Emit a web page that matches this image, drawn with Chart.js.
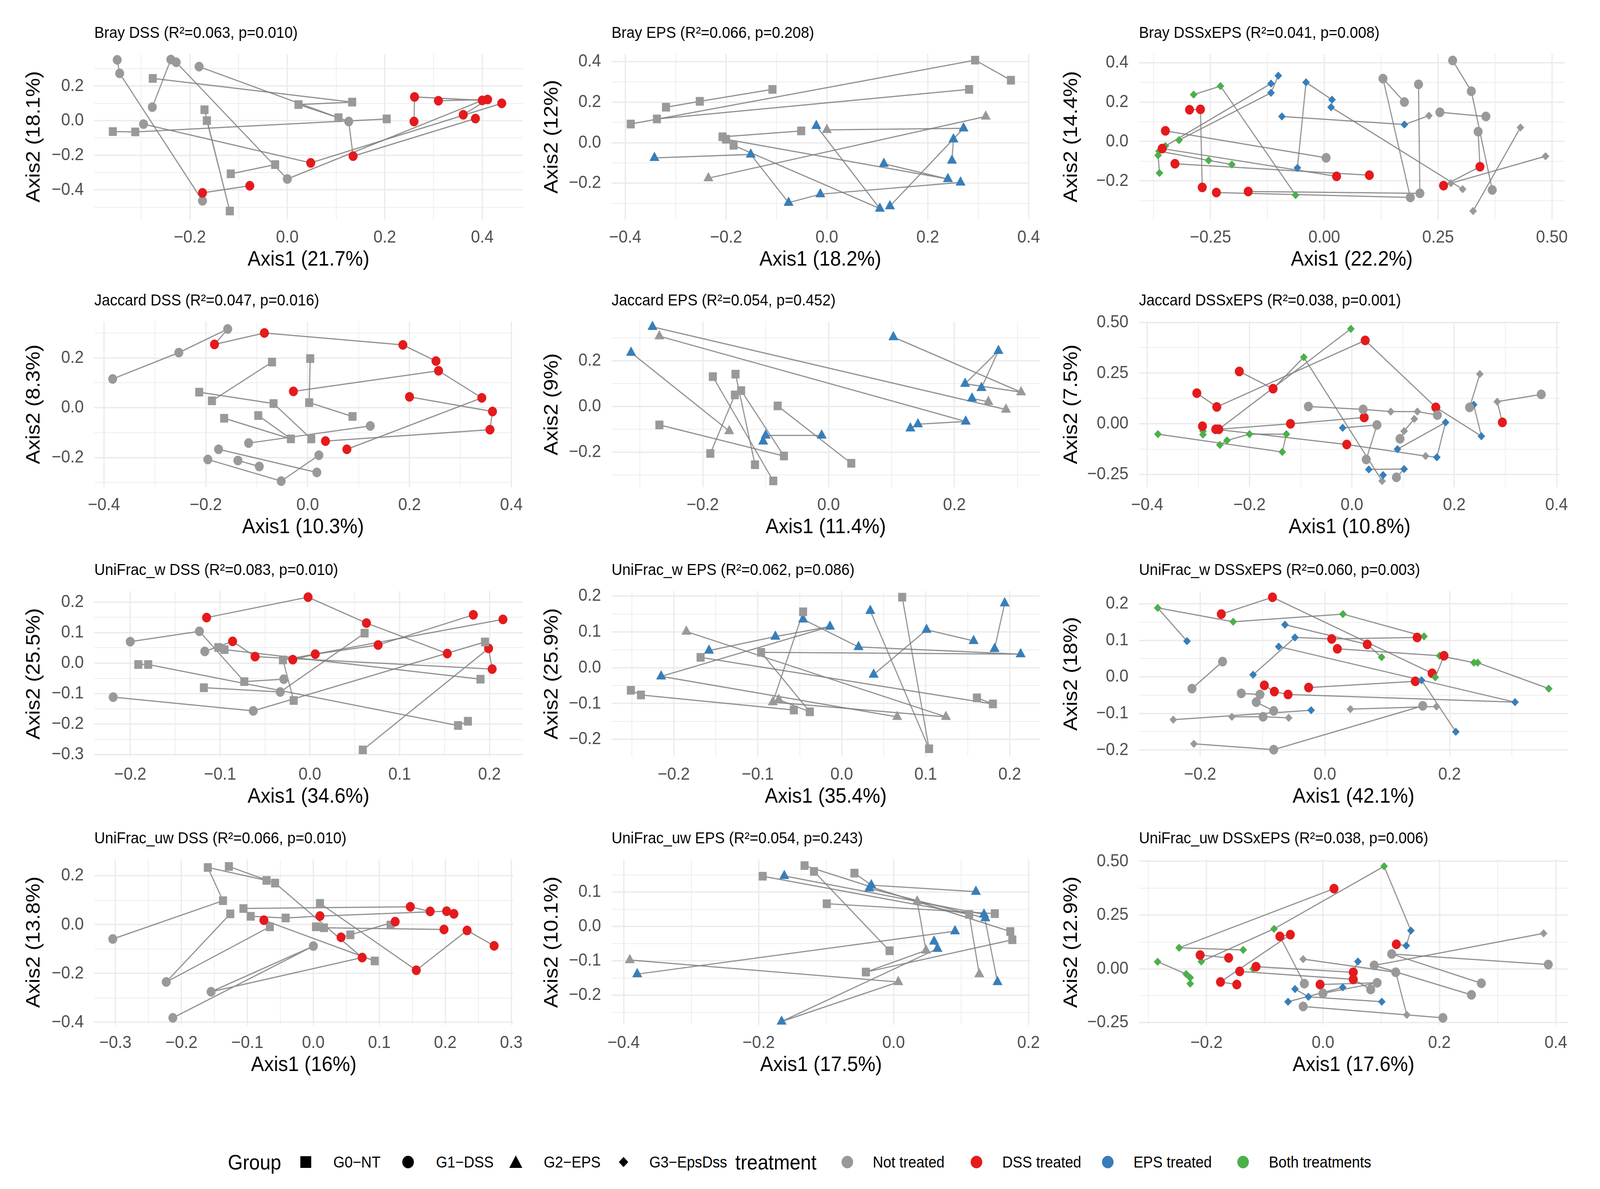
<!DOCTYPE html>
<html><head><meta charset="utf-8">
<script src="https://cdn.jsdelivr.net/npm/chart.js@4.4.1/dist/chart.umd.min.js"></script>
<style>
html,body{margin:0;padding:0;background:#fff;overflow:hidden;}
#page{position:absolute;left:0;top:0;width:4411px;height:3044px;transform-origin:0 0;font-family:"Liberation Sans",Arial,sans-serif;background:#fff;}
#page canvas{position:absolute;}
.lg{position:absolute;white-space:nowrap;line-height:1;transform:translateY(-50%);color:#000;}
.mk{position:absolute;transform:translate(-50%,-50%);}
</style></head><body>
<div id="page"></div>
<script>
// ---------- DATA ----------
// group: 0=G0-NT 1=G1-DSS 2=G2-EPS 3=G3-EpsDss ; treat: 0=Not 1=DSS 2=EPS 3=Both ; path = mouse trajectory id
const brayDssX = [-0.349,-0.344,-0.174,-0.174,-0.077, -0.239,-0.277, -0.228,0.0,0.400,0.261,0.260, -0.181,0.126,0.135,0.386, -0.295,0.048,0.440, 0.310,0.411,0.361, -0.276,0.133,0.023,0.105, -0.358,-0.312,0.204, -0.170,-0.118,-0.165, -0.116,-0.025];
const brayDssY = [0.351,0.273,-0.463,-0.417,-0.376, 0.353,0.078, 0.337,-0.337,0.117,0.137,-0.005, 0.312,-0.005,-0.205,0.012, -0.020,-0.244,0.100, 0.115,0.122,0.034, 0.244,0.107,0.093,0.017, -0.063,-0.065,0.010, 0.063,-0.522,0.0, -0.307,-0.254];
const brayDssGroup = [1,1,1,1,1, 1,1, 1,1,1,1,1, 1,1,1,1, 1,1,1, 1,1,1, 0,0,0,0, 0,0,0, 0,0,0, 0,0];
const brayDssTreat = [0,0,0,1,1, 0,0, 0,0,1,1,1, 0,0,1,1, 0,1,1, 1,1,1, 0,0,0,0, 0,0,0, 0,0,0, 0,0];
const brayDssPath  = [0,0,0,0,0, 1,1, 2,2,2,2,2, 3,3,3,3, 4,4,4, 5,5,5, 6,6,6,6, 7,7,7, 8,8,8, 9,9];

const brayEpsX = [-0.389,0.294,0.365, -0.319,-0.252,-0.108, -0.337,0.282, -0.207,-0.051, 0.315,-0.235, 0.0,0.271,0.125, -0.342,-0.151,-0.076,-0.013,0.265, -0.021,0.105,-0.185, 0.113,0.240,-0.200, 0.251,0.248];
const brayEpsY = [0.092,0.407,0.308, 0.175,0.204,0.263, 0.117,0.263, 0.029,0.058, 0.129,-0.175, 0.063,0.071,-0.313, -0.075,-0.058,-0.296,-0.254,-0.196, 0.083,-0.325,-0.013, -0.104,-0.179,0.017, 0.017,-0.088];
const brayEpsGroup = [0,0,0, 0,0,0, 0,0, 0,0, 2,2, 2,2,2, 2,2,2,2,2, 2,2,0, 2,2,0, 2,2];
const brayEpsTreat = [0,0,0, 0,0,0, 0,0, 0,0, 0,0, 0,2,2, 2,2,2,2,2, 2,2,0, 2,2,0, 2,2];
const brayEpsPath  = [0,0,0, 1,1,1, 2,2, 3,3, 4,4, 5,5,5, 6,6,6,6,6, 7,7,7, 8,8,8, 9,9];

const brayIntX = [0.230,0.176,-0.093, -0.101,-0.117,-0.319, -0.117,-0.349, 0.017,-0.040,-0.059, 0.304,0.015, -0.287,-0.228,-0.063, -0.363,-0.254,-0.203, -0.365,-0.362, 0.486,0.278, 0.431,0.327, 0.282,0.323,0.369, 0.176,0.129,0.189,-0.237, 0.207,0.210,-0.167, 0.254,0.355, 0.338,0.342,0.262, -0.349,0.004, -0.296,-0.272,-0.268, -0.356,0.027, -0.328,0.099];
const brayIntY = [0.131,0.086,0.127, 0.334,0.247,0.007, 0.294,-0.023, 0.212,0.300,-0.134, -0.242,0.174, 0.238,0.281,-0.272, -0.049,-0.096,-0.117, -0.070,-0.160, -0.075,-0.212, 0.071,-0.353, 0.411,0.255,-0.246, 0.200,0.319,-0.284,-0.259, 0.290,-0.263,-0.254, 0.148,0.127, 0.050,-0.128,-0.224, 0.054,-0.083, 0.161,0.163,-0.233, -0.036,-0.177, -0.113,-0.171];
const brayIntGroup = [3,3,3, 3,3,3, 3,3, 3,3,3, 3,3, 3,3,3, 3,3,3, 3,3, 3,3, 3,3, 1,1,1, 1,1,1,1, 1,1,1, 1,1, 1,1,1, 1,1, 1,1,1, 1,1, 1,1];
const brayIntTreat = [0,2,2, 2,2,3, 2,3, 2,2,2, 0,2, 3,3,3, 3,3,3, 3,3, 0,0, 0,0, 0,0,0, 0,0,0,1, 0,0,1, 0,0, 0,1,1, 1,0, 1,1,1, 1,1, 1,1];
const brayIntPath  = [0,0,0, 1,1,1, 2,2, 3,3,3, 4,4, 5,5,5, 6,6,6, 7,7, 8,8, 9,9, 10,10,10, 11,11,11,11, 12,12,12, 13,13, 14,14,14, 15,15, 16,16,16, 17,17, 18,18];

const jacDssX = [-0.383,-0.253,-0.157,-0.183,-0.085,0.187,0.252, -0.028,0.257,0.342,0.077, -0.116,0.123, 0.200,0.363,0.358,0.035, 0.022,-0.052,-0.196, -0.175,0.018, -0.095,-0.137, -0.070,-0.188, -0.213,-0.067,0.007, 0.005,0.003,0.088, -0.164,-0.033,-0.097];
const jacDssY = [0.116,0.222,0.317,0.255,0.301,0.253,0.188, 0.066,0.149,0.040,-0.167, -0.142,-0.073, 0.044,-0.015,-0.088,-0.134, -0.191,-0.295,-0.208, -0.167,-0.260, -0.236,-0.212, 0.184,0.028, 0.063,0.017,-0.125, 0.198,0.021,-0.035, -0.042,-0.125,-0.031];
const jacDssGroup = [1,1,1,1,1,1,1, 1,1,1,1, 1,1, 1,1,1,1, 1,1,1, 1,1, 1,1, 0,0, 0,0,0, 0,0,0, 0,0,0];
const jacDssTreat = [0,0,0,1,1,1,1, 1,1,1,1, 0,0, 1,1,1,1, 0,0,0, 0,0, 0,0, 0,0, 0,0,0, 0,0,0, 0,0,0];
const jacDssPath  = [0,0,0,0,0,0,0, 1,1,1,1, 2,2, 3,3,3,3, 4,4,4, 5,5, 6,6, 7,7, 8,8,8, 9,9,9, 10,10,10];

const jacEpsX = [-0.280,0.282, -0.269,0.218,0.142,0.130, -0.314,-0.158, -0.104,-0.100,-0.011, 0.103,0.306,0.217,0.270,0.243, 0.254,0.228, -0.184,-0.088, -0.148,-0.117, -0.139,-0.071,-0.269, -0.081,0.036, -0.149,-0.188];
const jacEpsY = [0.348,-0.014, 0.307,-0.066,-0.078,-0.096, 0.235,-0.108, -0.153,-0.127,-0.127, 0.303,0.062,0.099,0.243,0.081, 0.020,0.035, 0.130,-0.326, 0.141,-0.255, 0.069,-0.217,-0.081, 0.002,-0.249, 0.050,-0.206];
const jacEpsGroup = [2,2, 2,2,2,2, 2,2, 2,2,2, 2,2,2,2,2, 2,2, 0,0, 0,0, 0,0,0, 0,0, 0,0];
const jacEpsTreat = [2,0, 0,2,2,2, 2,0, 2,2,2, 2,0,2,2,2, 0,2, 0,0, 0,0, 0,0,0, 0,0, 0,0];
const jacEpsPath  = [0,0, 1,1,1,1, 2,2, 3,3,3, 4,4,4,4,4, 5,5, 6,6, 7,7, 8,8,8, 9,9, 10,10];

const jacIntX = [-0.303,-0.264,0.026,0.164,0.253,0.238, -0.220,-0.154,-0.094,0.059,0.061, -0.002,-0.260,-0.120,0.024, -0.266,-0.010,0.144,0.166,0.183,0.089, -0.379,-0.136,-0.128,-0.200,-0.244,-0.258, -0.291,-0.291,-0.292, 0.250,0.230, 0.370,0.284,0.294, -0.085,0.022,0.076,0.128,0.167, 0.122,0.102,0.094, -0.018,0.049,0.028, 0.033,0.102,0.087];
const jacIntY = [0.151,0.083,0.411,0.081,-0.061,0.094, 0.258,0.173,0.328,-0.282,-0.253, 0.468,-0.027,0.000,0.031, -0.027,-0.102,-0.159,-0.165,0.007,-0.125, -0.051,-0.139,-0.051,-0.051,-0.082,-0.104, -0.053,-0.036,-0.012, 0.245,0.081, 0.145,0.109,0.007, 0.085,0.071,0.060,0.060,0.043, 0.024,-0.036,-0.074, -0.020,-0.006,-0.176, -0.225,-0.223,-0.264];
const jacIntGroup = [1,1,1,1,3,3, 1,1,3,3,3, 3,1,1,1, 1,1,3,3,3,3, 3,3,3,3,3,3, 3,3,1, 3,1, 1,3,1, 1,1,3,3,1, 3,3,1, 3,1,1, 3,3,1];
const jacIntTreat = [1,1,1,1,2,2, 1,1,3,0,2, 3,1,1,1, 1,1,0,2,2,2, 3,3,3,3,3,3, 3,3,1, 0,0, 0,0,1, 0,0,0,0,0, 0,0,0, 2,0,0, 2,2,0];
const jacIntPath  = [0,0,0,0,0,0, 1,1,1,1,1, 2,2,2,2, 3,3,3,3,3,3, 4,4,4,4,4,4, 5,5,5, 6,6, 7,7,7, 8,8,8,8,8, 9,9,9, 10,10,10, 11,11,11];

const uwDssX = [-0.200,-0.123,-0.073,-0.029, -0.115,-0.002,0.063,0.153, -0.117,-0.086,-0.061,0.203,0.199,0.059, -0.019,0.006,0.076,0.182, 0.215,-0.030,-0.018, 0.061,-0.033,-0.118, -0.102,-0.095,0.190, -0.191,-0.180,0.165,0.176, -0.219,-0.063,0.195];
const uwDssY = [0.070,0.104,-0.061,-0.053, 0.149,0.216,0.131,0.031, 0.038,0.071,0.021,-0.020,0.048,-0.285, 0.011,0.029,0.059,0.158, 0.143,0.010,-0.123, 0.098,-0.095,-0.081, 0.051,0.044,-0.053, -0.005,-0.005,-0.205,-0.191, -0.112,-0.157,0.069];
const uwDssGroup = [1,1,0,1, 1,1,1,1, 1,1,1,1,1,0, 1,1,1,1, 1,0,0, 0,1,0, 0,0,0, 0,0,0,0, 1,1,0];
const uwDssTreat = [0,0,0,0, 1,1,1,1, 0,1,1,1,1,0, 1,1,1,1, 1,0,0, 0,0,0, 0,0,0, 0,0,0,0, 0,0,0];
const uwDssPath  = [0,0,0,0, 1,1,1,1, 2,2,2,2,2,2, 3,3,3,3, 4,4,4, 5,5,5, 6,6,6, 7,7,7,7, 8,8,8];

const uwEpsX = [0.157,0.101,0.038, 0.072,0.104,0.034, 0.194,0.182, -0.046,0.020,0.213,-0.096,-0.038,-0.075, -0.046,-0.082,0.124,-0.185, -0.158,-0.079,-0.014,-0.215,0.066, -0.168,0.180,0.161, -0.251,-0.239,-0.057];
const uwEpsY = [0.075,0.106,-0.019, 0.197,-0.226,0.159, 0.180,0.053, 0.135,0.058,0.038,0.043,-0.123,-0.089, 0.156,-0.096,-0.137,0.101, 0.048,0.087,0.115,-0.024,-0.137, 0.029,-0.101,-0.084, -0.063,-0.076,-0.118];
const uwEpsGroup = [2,2,2, 0,0,2, 2,2, 2,2,2,0,0,2, 0,2,2,2, 2,2,2,2,2, 0,0,0, 0,0,0];
const uwEpsTreat = [2,2,2, 0,0,2, 2,2, 2,2,2,0,0,0, 0,0,0,0, 2,2,2,2,0, 0,0,0, 0,0,0];
const uwEpsPath  = [0,0,0, 1,1,1, 2,2, 3,3,3,3,3,3, 4,4,4,4, 5,5,5,5,5, 6,6,6, 7,7,7];

const uwIntX = [-0.221,-0.268,-0.147,0.029,0.159, -0.166,-0.084,0.172, -0.064,0.068,0.091, -0.115,-0.048,0.011,0.148, -0.074,0.305,-0.059,-0.081,-0.097, 0.020,0.184,0.239, 0.245,0.359, -0.026,0.145,0.155,0.210, 0.191,0.177, -0.164,-0.213, -0.134,-0.104,-0.110,-0.082, -0.149,-0.099,-0.058, -0.243,-0.022, 0.041,0.179, -0.210,-0.082,0.157];
const uwIntY = [0.098,0.189,0.151,0.172,0.111, 0.172,0.218,0.010, 0.143,0.089,0.054, 0.006,0.108,0.104,0.108, 0.083,-0.069,-0.048,-0.040,-0.023, 0.077,0.058,0.039, 0.039,-0.032, -0.029,-0.012,-0.009,-0.150, 0.058,-0.001, 0.042,-0.032, -0.045,-0.048,-0.069,-0.093, -0.109,-0.109,-0.112, -0.117,-0.091, -0.088,-0.081, -0.183,-0.199,-0.079];
const uwIntGroup = [3,3,3,3,3, 1,1,1, 3,1,3, 3,3,1,1, 3,3,1,1,1, 1,3,3, 3,3, 1,1,3,3, 1,3, 1,1, 1,1,1,1, 3,1,3, 3,3, 3,3, 3,1,1];
const uwIntTreat = [2,3,3,3,3, 1,1,1, 2,1,3, 2,2,1,1, 2,2,1,1,1, 1,3,3, 3,3, 1,1,2,2, 1,3, 0,0, 0,0,0,0, 0,0,0, 0,2, 0,0, 0,0,0];
const uwIntPath  = [0,0,0,0,0, 1,1,1, 2,2,2, 3,3,3,3, 4,4,4,4,4, 5,5,5, 6,6, 7,7,7,7, 8,8, 9,9, 10,10,10,10, 11,11,11, 12,12, 13,13, 14,14,14];

const unDssX = [-0.304,-0.137,-0.160,-0.071, -0.066,-0.223,-0.126, -0.128,-0.058,0.074,-0.155,0.0,-0.213, -0.106,0.147,0.177, -0.095,-0.042,0.010,0.202,0.213, 0.010,0.156,0.233,0.274, 0.004,0.016,0.198, 0.117,0.124,0.056,0.042, -0.075,0.093];
const unDssY = [-0.059,0.098,0.234,0.181, -0.009,-0.235,0.044, 0.238,0.170,-0.135,-0.275,-0.088,-0.382, 0.066,0.073,0.054, 0.034,0.027,0.035,0.055,0.044, 0.087,-0.187,-0.024,-0.087, -0.009,-0.013,-0.020, -0.002,0.012,-0.042,-0.052, 0.018,-0.149];
const unDssGroup = [1,0,0,0, 0,1,0, 0,0,1,1,1,1, 0,1,1, 0,0,1,1,1, 0,1,1,1, 0,0,1, 0,1,0,1, 1,0];
const unDssTreat = [0,0,0,0, 0,0,0, 0,0,1,0,0,0, 0,1,1, 0,0,1,1,1, 0,1,1,1, 0,0,1, 0,1,0,1, 1,0];
const unDssPath  = [0,0,0,0, 1,1,1, 2,2,2,2,2,2, 3,3,3, 4,4,4,4,4, 5,5,5,5, 6,6,6, 7,7,7,7, 8,8];

const unEpsX = [-0.194,0.112,0.127, -0.162,0.134,0.154, -0.132,0.173,0.035,0.048,-0.041,0.176, -0.118,-0.006, -0.058,-0.033,0.122, -0.036,0.136, 0.060,0.065,-0.166,0.007,-0.391, -0.099,0.150, -0.380,0.091];
const unEpsY = [0.146,0.035,-0.139, 0.147,0.035,-0.162, 0.177,-0.015,0.073,-0.070,-0.133,-0.039, 0.160,-0.071, 0.155,0.120,0.101, 0.111,0.024, -0.044,-0.065,-0.277,-0.162,-0.098, 0.066,0.037, -0.139,-0.014];
const unEpsGroup = [0,0,2, 2,2,2, 0,0,2,2,0,0, 0,0, 0,2,2, 2,2, 2,2,2,2,2, 0,0, 2,2];
const unEpsTreat = [0,0,0, 2,2,2, 0,0,0,0,0,0, 0,0, 0,2,2, 2,2, 2,2,2,0,0, 0,0, 2,2];
const unEpsPath  = [0,0,0, 1,1,1, 2,2,2,2,2,2, 3,3, 4,4,4, 5,5, 6,6,6,6,6, 7,7, 8,8];

const unIntX = [-0.209,-0.084,0.105,0.151,0.143,0.126, 0.019,-0.247,-0.137, -0.032,-0.074,-0.056,-0.176,-0.148, -0.284,-0.235,-0.228,-0.228, -0.211,-0.162, -0.120,-0.115,0.052,0.060, -0.143,0.052,0.082, 0.379,0.088,0.255, 0.387,0.118,0.272, -0.034,0.125,0.144, -0.034,0.206, -0.048,-0.025,0.101, -0.060,0.034, -0.005,0.093,0.0];
const unIntY = [0.034,0.186,0.477,0.178,0.108,0.114, 0.373,0.098,0.088, -0.069,0.151,0.159,-0.061,-0.073, 0.033,-0.024,-0.041,-0.069, 0.064,0.051, 0.000,0.010,-0.016,0.034, -0.012,-0.049,-0.096, 0.165,0.016,-0.121, 0.020,0.069,-0.067, 0.045,-0.016,-0.214, -0.175,-0.228, -0.094,-0.130,-0.153, -0.153,-0.086, -0.073,-0.065,-0.114];
const unIntGroup = [3,3,3,3,3,1, 1,3,3, 1,1,1,1,1, 3,3,3,3, 1,1, 3,1,1,3, 1,1,1, 3,1,1, 1,1,1, 3,1,3, 1,1, 3,3,3, 3,3, 1,1,1];
const unIntTreat = [3,3,3,2,2,1, 1,3,3, 0,1,1,1,1, 3,3,3,3, 1,1, 3,1,1,2, 1,1,0, 0,0,0, 0,0,0, 0,0,0, 0,0, 2,2,2, 2,2, 1,0,0];
const unIntPath  = [0,0,0,0,0,0, 1,1,1, 2,2,2,2,2, 3,3,3,3, 4,4, 5,5,5,5, 6,6,6, 7,7,7, 8,8,8, 9,9,9, 10,10, 11,11,11, 12,12, 13,13,13];

// titles
const panelTitles = ['Bray DSS (R²=0.063, p=0.010)','Bray EPS (R²=0.066, p=0.208)','Bray DSSxEPS (R²=0.041, p=0.008)',
 'Jaccard DSS (R²=0.047, p=0.016)','Jaccard EPS (R²=0.054, p=0.452)','Jaccard DSSxEPS (R²=0.038, p=0.001)',
 'UniFrac_w DSS (R²=0.083, p=0.010)','UniFrac_w EPS (R²=0.062, p=0.086)','UniFrac_w DSSxEPS (R²=0.060, p=0.003)',
 'UniFrac_uw DSS (R²=0.066, p=0.010)','UniFrac_uw EPS (R²=0.054, p=0.243)','UniFrac_uw DSSxEPS (R²=0.038, p=0.006)'];
const xAxisTitles = ['Axis1 (21.7%)','Axis1 (18.2%)','Axis1 (22.2%)','Axis1 (10.3%)','Axis1 (11.4%)','Axis1 (10.8%)','Axis1 (34.6%)','Axis1 (35.4%)','Axis1 (42.1%)','Axis1 (16%)','Axis1 (17.5%)','Axis1 (17.6%)'];
const yAxisTitles = ['Axis2 (18.1%)','Axis2 (12%)','Axis2 (14.4%)','Axis2 (8.3%)','Axis2 (9%)','Axis2 (7.5%)','Axis2 (25.5%)','Axis2 (25.9%)','Axis2 (18%)','Axis2 (13.8%)','Axis2 (10.1%)','Axis2 (12.9%)'];

// tick values and labels
const xTickVals = [[-0.2,0,0.2,0.4],[-0.4,-0.2,0,0.2,0.4],[-0.25,0,0.25,0.5],[-0.4,-0.2,0,0.2,0.4],[-0.2,0,0.2],[-0.4,-0.2,0,0.2,0.4],[-0.2,-0.1,0,0.1,0.2],[-0.2,-0.1,0,0.1,0.2],[-0.2,0,0.2],[-0.3,-0.2,-0.1,0,0.1,0.2,0.3],[-0.4,-0.2,0,0.2],[-0.2,0,0.2,0.4]];
const xTickLabels = [['−0.2','0.0','0.2','0.4'],['−0.4','−0.2','0.0','0.2','0.4'],['−0.25','0.00','0.25','0.50'],['−0.4','−0.2','0.0','0.2','0.4'],['−0.2','0.0','0.2'],['−0.4','−0.2','0.0','0.2','0.4'],['−0.2','−0.1','0.0','0.1','0.2'],['−0.2','−0.1','0.0','0.1','0.2'],['−0.2','0.0','0.2'],['−0.3','−0.2','−0.1','0.0','0.1','0.2','0.3'],['−0.4','−0.2','0.0','0.2'],['−0.2','0.0','0.2','0.4']];
const yTickVals = [[-0.4,-0.2,0,0.2],[-0.2,0,0.2,0.4],[-0.2,0,0.2,0.4],[-0.2,0,0.2],[-0.2,0,0.2],[-0.25,0,0.25,0.5],[-0.3,-0.2,-0.1,0,0.1,0.2],[-0.2,-0.1,0,0.1,0.2],[-0.2,-0.1,0,0.1,0.2],[-0.4,-0.2,0,0.2],[-0.2,-0.1,0,0.1],[-0.25,0,0.25,0.5]];
const yTickLabels = [['−0.4','−0.2','0.0','0.2'],['−0.2','0.0','0.2','0.4'],['−0.2','0.0','0.2','0.4'],['−0.2','0.0','0.2'],['−0.2','0.0','0.2'],['−0.25','0.00','0.25','0.50'],['−0.3','−0.2','−0.1','0.0','0.1','0.2'],['−0.2','−0.1','0.0','0.1','0.2'],['−0.2','−0.1','0.0','0.1','0.2'],['−0.4','−0.2','0.0','0.2'],['−0.2','−0.1','0.0','0.1'],['−0.25','0.00','0.25','0.50']];
// axis limits (ggplot expanded)
const xLimits = [[-0.396,0.483],[-0.427,0.401],[-0.407,0.528],[-0.419,0.401],[-0.345,0.336],[-0.416,0.407],[-0.240,0.237],[-0.274,0.236],[-0.298,0.390],[-0.332,0.303],[-0.418,0.203],[-0.316,0.421]];
const yLimits = [[-0.571,0.385],[-0.379,0.4375],[-0.396,0.444],[-0.319,0.347],[-0.353,0.371],[-0.312,0.504],[-0.307,0.236],[-0.248,0.214],[-0.218,0.235],[-0.411,0.267],[-0.287,0.195],[-0.261,0.509]];

const legendGroupLabels = ['G0−NT','G1−DSS','G2−EPS','G3−EpsDss'];
const legendTreatLabels = ['Not treated','DSS treated','EPS treated','Both treatments'];

// ---------- STYLE / LAYOUT ----------
const FONT = '"Liberation Sans", Arial, Helvetica, sans-serif';
const COLORS = ['#999999','#E41A1C','#377EB8','#4DAF4A'];
const SHAPES = ['rect','circle','triangle','rectRot'];
const RADII = [15,12,15,10];
const LINE_COLOR = 'rgba(125,125,125,0.85)';
Chart.defaults.font.family = FONT;

// fit the 4411x3044 design into whatever viewport the browser really gives
const page = document.getElementById('page');
const vw = window.innerWidth || document.documentElement.clientWidth || 4411;
const vh = window.innerHeight || document.documentElement.clientHeight || 3044;
let SX = vw/4411, SY = vh/3044;
if (!isFinite(SX) || SX < 0.3) SX = 1;
if (!isFinite(SY) || SY < 0.3) SY = 1;
page.style.transform = 'scale(' + SX + ',' + SY + ')';

const panelData = [
 [brayDssX,brayDssY,brayDssGroup,brayDssTreat,brayDssPath],
 [brayEpsX,brayEpsY,brayEpsGroup,brayEpsTreat,brayEpsPath],
 [brayIntX,brayIntY,brayIntGroup,brayIntTreat,brayIntPath],
 [jacDssX,jacDssY,jacDssGroup,jacDssTreat,jacDssPath],
 [jacEpsX,jacEpsY,jacEpsGroup,jacEpsTreat,jacEpsPath],
 [jacIntX,jacIntY,jacIntGroup,jacIntTreat,jacIntPath],
 [uwDssX,uwDssY,uwDssGroup,uwDssTreat,uwDssPath],
 [uwEpsX,uwEpsY,uwEpsGroup,uwEpsTreat,uwEpsPath],
 [uwIntX,uwIntY,uwIntGroup,uwIntTreat,uwIntPath],
 [unDssX,unDssY,unDssGroup,unDssTreat,unDssPath],
 [unEpsX,unEpsY,unEpsGroup,unEpsTreat,unEpsPath],
 [unIntX,unIntY,unIntGroup,unIntTreat,unIntPath]
];

const colBoxLeft = [58,1486,2918];
const colPlotLeft = [260,1686,3140];
const colPlotRight = [1441,2867,4323];
const rowPlotTop = [138,823,1513,2200];
const PLOT_H = 424, TITLE_BLOCK = 77, XAXIS_H = 140, PAD_R = 20;

function minorTicks(major, lo, hi){
  const step = major[1]-major[0];
  const c = [major[0]-step/2];
  for (let i=0;i<major.length-1;i++) c.push((major[i]+major[i+1])/2);
  c.push(major[major.length-1]+step/2);
  return c.filter(v=>v>=lo && v<=hi).map(v=>+v.toFixed(5));
}
function axisCfg(vals, labels, lim, title, isX, fixedSize){
  const minors = minorTicks(vals, lim[0], lim[1]);
  const all = vals.concat(minors).sort((a,b)=>a-b);
  const isMajor = v => vals.some(m=>Math.abs(m-v)<1e-6);
  return {
    type:'linear', min:lim[0], max:lim[1],
    afterBuildTicks: s => { s.ticks = all.map(v=>({value:v})); },
    afterFit: s => { if (isX) s.height = fixedSize; else s.width = fixedSize; },
    grid:{ color:'#EBEBEB', drawTicks:false,
      lineWidth: c => (c.tick && isMajor(c.tick.value)) ? 3.5 : 1.8 },
    border:{display:false},
    ticks:{ autoSkip:false, maxRotation:0, minRotation:0, color:'#4D4D4D', padding: isX ? 20 : 29,
      font:{size:45, family:FONT},
      callback: v => { const i = vals.findIndex(m=>Math.abs(m-v)<1e-6); return i>=0 ? labels[i] : ''; } },
    title:{ display:true, text:title, color:'#000', font:{size:54, family:FONT}, padding:{top:4,bottom:4} }
  };
}

for (let k=0;k<12;k++){
  const r = Math.floor(k/3), c = k%3;
  const [X,Y,G,T,P] = panelData[k];
  const cv = document.createElement('canvas');
  const left = colBoxLeft[c], top = rowPlotTop[r]-TITLE_BLOCK;
  const w = colPlotRight[c]-left+PAD_R, h = TITLE_BLOCK+PLOT_H+XAXIS_H;
  cv.width = w; cv.height = h;
  cv.style.left = left+'px'; cv.style.top = top+'px';
  cv.style.width = w+'px'; cv.style.height = h+'px';
  page.appendChild(cv);

  const paths = new Map();
  X.forEach((_,i)=>{ if(!paths.has(P[i])) paths.set(P[i],[]); paths.get(P[i]).push(i); });
  const datasets = [];
  paths.forEach(idx=>{
    datasets.push({ data: idx.map(i=>({x:X[i],y:Y[i]})), showLine:true, borderColor:LINE_COLOR,
      borderWidth:3, pointRadius:0, pointHoverRadius:0, tension:0, fill:false, order:2, clip:false });
  });
  datasets.push({ data: X.map((x,i)=>({x, y:Y[i]})), showLine:false, order:1, clip:false,
    pointStyle: G.map(g=>SHAPES[g]), pointRadius: G.map(g=>RADII[g]),
    pointBackgroundColor: T.map(t=>COLORS[t]), pointBorderColor: T.map(t=>COLORS[t]), pointBorderWidth:1,
    pointHoverRadius: G.map(g=>RADII[g]) });

  new Chart(cv, {
    type:'scatter',
    data:{datasets},
    options:{
      responsive:false, animation:false, devicePixelRatio:1,
      layout:{padding:{left:0,right:PAD_R,top:0,bottom:0}},
      plugins:{ legend:{display:false}, tooltip:{enabled:false},
        title:{display:true, text:panelTitles[k], align:'start', fullSize:false, color:'#000',
          font:{size:41, weight:'normal', family:FONT}, padding:{top:0,bottom:28}} },
      scales:{
        x: axisCfg(xTickVals[k], xTickLabels[k], xLimits[k], xAxisTitles[k], true, XAXIS_H),
        y: axisCfg(yTickVals[k], yTickLabels[k], yLimits[k], yAxisTitles[k], false, colPlotLeft[c]-colBoxLeft[c])
      }
    }
  });
}

// ---------- LEGEND ----------
const LEG_Y = 2975;
function addText(txt, x, size){ const d=document.createElement('div'); d.className='lg'; d.textContent=txt;
  d.style.left=x+'px'; d.style.top=LEG_Y+'px'; d.style.fontSize=size+'px'; page.appendChild(d); }
function addMarker(shape, color, x){
  const s = 40; const ns='http://www.w3.org/2000/svg';
  const svg=document.createElementNS(ns,'svg'); svg.setAttribute('width',s); svg.setAttribute('height',s);
  svg.setAttribute('class','mk'); svg.style.left=x+'px'; svg.style.top=LEG_Y+'px';
  let el;
  if (shape==='rect'){ el=document.createElementNS(ns,'rect'); el.setAttribute('x',5); el.setAttribute('y',5); el.setAttribute('width',30); el.setAttribute('height',30); }
  else if (shape==='circle'){ el=document.createElementNS(ns,'circle'); el.setAttribute('cx',20); el.setAttribute('cy',20); el.setAttribute('r',16); }
  else if (shape==='triangle'){ el=document.createElementNS(ns,'polygon'); el.setAttribute('points','20,3 38,35 2,35'); }
  else { el=document.createElementNS(ns,'polygon'); el.setAttribute('points','20,7 33,20 20,33 7,20'); }
  el.setAttribute('fill',color); svg.appendChild(el); page.appendChild(svg);
}
addText('Group', 628, 53);
const gMarkX=[843,1125,1422,1719], gTextX=[919,1202,1499,1790];
legendGroupLabels.forEach((l,i)=>{ addMarker(SHAPES[i],'#000',gMarkX[i]); addText(l,gTextX[i],40); });
addText('treatment', 2027, 53);
const tMarkX=[2336,2692,3054,3427], tTextX=[2406,2763,3125,3498];
legendTreatLabels.forEach((l,i)=>{ addMarker('circle',COLORS[i],tMarkX[i]); addText(l,tTextX[i],40); });
</script>
</body></html>
